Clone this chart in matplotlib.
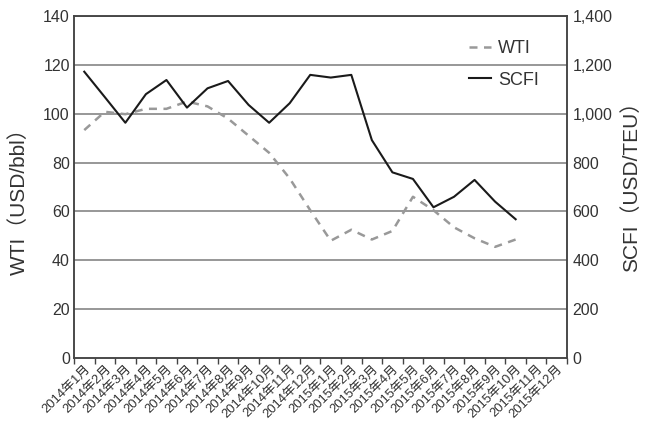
import matplotlib
matplotlib.use("Agg")
import matplotlib.pyplot as plt
from matplotlib.ticker import FuncFormatter, FixedLocator

plt.rcParams["font.family"] = ["Liberation Sans", "Noto Sans CJK JP", "DejaVu Sans"]

# monthly labels, 2014-01 .. 2015-12
months = ["2014年{}月".format(m) for m in range(1, 13)] + ["2015年{}月".format(m) for m in range(1, 13)]

# WTI crude (USD/bbl), Jan 2014 - Oct 2015
wti = [93.3, 100.8, 99.8, 102.0, 102.0, 105.0, 103.0, 98.0, 91.0, 84.0, 73.5, 60.5,
       48.0, 52.5, 48.5, 52.0, 66.0, 60.5, 53.5, 49.0, 45.5, 48.5]

# SCFI composite (USD/TEU), Jan 2014 - Oct 2015
scfi = [1172, 1068, 963, 1080, 1138, 1025, 1104, 1134, 1036, 963, 1043, 1159,
        1148, 1159, 892, 760, 733, 617, 660, 729, 640, 568]

fig = plt.figure(figsize=(6.55, 4.23), dpi=100)
ax = fig.add_axes([74 / 655, 1 - 358 / 423, 493 / 655, 342 / 423])
ax2 = ax.twinx()

grid_col = "#7a7a7a"
spine_col = "#444444"
text_col = "#333333"

ax.set_ylim(0, 140)
ax.set_yticks(range(0, 141, 20))
ax2.set_ylim(0, 1400)
ax2.set_yticks(range(0, 1401, 200))
ax2.yaxis.set_major_formatter(FuncFormatter(lambda v, p: "{:,.0f}".format(v)))
for y in range(20, 141, 20):
    ax.axhline(y, color=grid_col, lw=1.1, zorder=0)

x = list(range(len(months)))
ax.set_xlim(-0.5, len(months) - 0.5)
ax2.set_xlim(-0.5, len(months) - 0.5)

ln_wti, = ax.plot(x[:len(wti)], wti, color="#999999", lw=1.8, ls=(0, (3.2, 2.6)), label="WTI", zorder=3)
ln_scfi, = ax2.plot(x[:len(scfi)], scfi, color="#1a1a1a", lw=1.5, label="SCFI", zorder=4)

ax.set_xticks(x)
ax.set_xticklabels(months, rotation=45, ha="right", rotation_mode="anchor", fontsize=9.4, color=text_col)
ax.xaxis.set_minor_locator(FixedLocator([i - 0.5 for i in range(len(months) + 1)]))
ax.tick_params(axis="x", which="major", length=0, pad=3.5)
ax.tick_params(axis="x", which="minor", length=4, width=1, color=spine_col, direction="out")
ax.tick_params(axis="y", length=0, pad=3, labelsize=11.5, labelcolor=text_col)
ax2.tick_params(axis="y", length=0, pad=4, labelsize=11.5, labelcolor=text_col)

for a in (ax, ax2):
    for s in a.spines.values():
        s.set_color(spine_col)
        s.set_linewidth(1.1)

ax.set_ylabel("WTI（USD/bbl）", fontsize=15, color=text_col)
ax2.set_ylabel("SCFI（USD/TEU）", fontsize=15, color=text_col)
ax.yaxis.label.set_va("center")
ax2.yaxis.label.set_va("center")
ax.yaxis.set_label_coords(-0.112, 0.474)
ax2.yaxis.set_label_coords(1.13, 0.517)

leg = ax.legend([ln_wti, ln_scfi], ["WTI", "SCFI"], loc="upper left", bbox_to_anchor=(0.801, 0.929),
                frameon=False, fontsize=13, handlelength=1.2, handletextpad=0.4,
                labelspacing=0.8, borderpad=0, borderaxespad=0)
for t in leg.get_texts():
    t.set_color(text_col)

fig.savefig("out.png", dpi=100)
